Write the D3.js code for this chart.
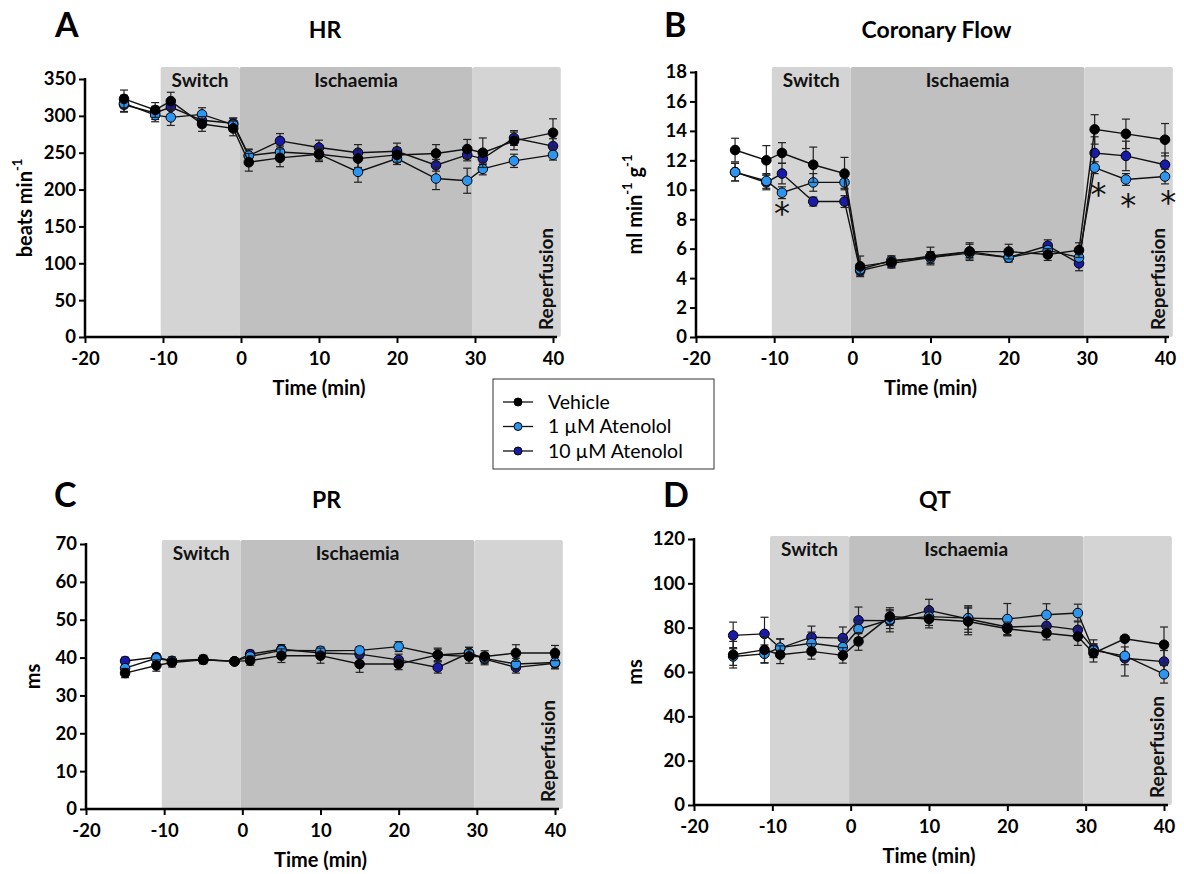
<!DOCTYPE html>
<html>
<head>
<meta charset="utf-8">
<script src="https://cdn.jsdelivr.net/npm/d3@7"></script>
<style>
  body { margin: 0; background: #fff; }
  svg text { font-family: Lato, "Open Sans", sans-serif; }
</style>
</head>
<body>
<svg id="fig" width="1184" height="874"></svg>
<script>
// time points (min)
const times = [-15, -11, -9, -5, -1, 1, 5, 10, 15, 20, 25, 29, 31, 35, 40];
const groups = ['Vehicle', '1 µM Atenolol', '10 µM Atenolol'];
const groupColors = ['#000000', '#2b95ef', '#1a1aa8'];

// HR (beats/min)
const hrVehicle = [323, 308, 320, 289, 283, 237, 243, 248, 242, 247, 249, 255, 250, 266, 277];
const hrVehicleErr = [12, 10, 12, 10, 10, 12, 12, 10, 12, 10, 12, 13, 20, 12, 19];
const hrLow = [317, 301, 298, 302, 288, 246, 251, 248, 224, 242, 215, 212, 228, 239, 247];
const hrLowErr = [11, 9, 11, 9, 9, 8, 8, 8, 14, 8, 15, 17, 8, 9, 7];
const hrHigh = [315, 304, 312, 294, 290, 246, 266, 257, 250, 252, 233, 247, 242, 270, 259];
const hrHighErr = [10, 9, 10, 9, 7, 9, 10, 10, 11, 11, 8, 8, 8, 10, 10];

// Coronary flow (ml/min/g)
const cfVehicle = [12.7, 12.0, 12.5, 11.7, 11.1, 4.8, 5.1, 5.5, 5.8, 5.8, 5.6, 5.9, 14.1, 13.8, 13.4];
const cfVehicleErr = [0.8, 1.0, 0.7, 1.2, 1.1, 0.7, 0.4, 0.6, 0.6, 0.5, 0.4, 0.5, 1.0, 1.0, 1.1];
const cfLow = [11.2, 10.6, 9.8, 10.5, 10.5, 4.6, 5.2, 5.4, 5.7, 5.4, 5.9, 5.4, 11.5, 10.7, 10.9];
const cfLowErr = [0.6, 0.5, 0.4, 0.6, 0.4, 0.3, 0.3, 0.3, 0.3, 0.3, 0.3, 0.3, 0.4, 0.4, 0.5];
const cfHigh = [11.2, 10.5, 11.1, 9.2, 9.2, 4.5, 5.0, 5.4, 5.8, 5.4, 6.2, 5.0, 12.5, 12.3, 11.7];
const cfHighErr = [0.6, 0.5, 0.7, 0.3, 0.4, 0.3, 0.3, 0.4, 0.5, 0.3, 0.4, 0.5, 1.1, 1.0, 0.8];
// significance marks on coronary flow
const cfStarTimes = [-9, 31.5, 35.3, 40.4];
const cfStarValues = [8.8, 10.1, 9.4, 9.6];

// PR (ms)
const prVehicle = [35.9, 37.9, 38.7, 39.4, 39.0, 39.2, 40.5, 40.5, 38.3, 38.3, 40.7, 40.3, 40.3, 41.2, 41.2];
const prVehicleErr = [1.2, 1.5, 1.2, 1.0, 0.8, 1.2, 1.8, 2.0, 2.2, 1.5, 1.8, 1.8, 1.5, 2.2, 2.0];
const prLow = [37.2, 39.8, 39.1, 39.4, 39.0, 40.3, 41.9, 41.8, 41.9, 42.9, 40.7, 41.2, 39.8, 38.3, 38.7];
const prLowErr = [1.0, 0.8, 1.0, 1.0, 0.8, 1.0, 1.0, 1.0, 1.0, 1.3, 1.5, 1.5, 1.3, 1.5, 1.5];
const prHigh = [39.1, 40.1, 39.1, 39.6, 39.0, 40.9, 42.2, 41.2, 40.9, 39.4, 37.4, 41.2, 39.6, 37.4, 38.5];
const prHighErr = [1.0, 1.0, 1.0, 1.0, 0.8, 1.0, 1.2, 1.0, 1.0, 1.5, 1.5, 1.5, 1.5, 1.5, 1.5];

// QT (ms)
const qtVehicle = [67.8, 70.0, 67.8, 69.3, 67.5, 73.8, 85.0, 83.9, 82.8, 79.5, 77.5, 76.0, 68.5, 75.0, 72.3];
const qtVehicleErr = [6, 6, 4, 3.5, 3.5, 4, 4, 4, 6, 3, 3, 4, 4, 1, 8];
const qtLow = [67.0, 68.2, 71.0, 73.0, 71.2, 79.3, 83.6, 85.0, 84.3, 83.9, 85.8, 86.6, 69.7, 67.3, 59.0];
const qtLowErr = [4, 4, 4, 5, 4, 4, 4, 4, 5, 7, 5, 4, 3, 4, 4];
const qtHigh = [76.5, 77.2, 70.8, 75.7, 75.3, 83.3, 83.1, 87.8, 83.9, 80.3, 80.8, 79.0, 70.5, 66.2, 64.7];
const qtHighErr = [6, 7.5, 4, 5, 5, 6, 5, 5, 6, 4, 4, 4, 4, 8, 5];

// protocol phases (min)
const phaseNames = ['Switch', 'Ischaemia', 'Reperfusion'];
const phaseStart = [-10.3, -0.2, 29.7];
const phaseEnd = [-0.2, 29.7, 41];
const phaseFill = ['#d4d4d4', '#c0c0c0', '#d4d4d4'];

const xTicks = [-20, -10, 0, 10, 20, 30, 40];

const svg = d3.select('#fig');

const panels = [
    { letter: 'A', title: 'HR', ylab: ['beats min', '-1'], ymax: 350, step: 50,
      x0: 85, x1: 553, yTop: 79, yBot: 337, shadeTop: 67, labX: 27, letterX: 55, row: 0,
      series: [[hrVehicle, hrVehicleErr], [hrLow, hrLowErr], [hrHigh, hrHighErr]] },
    { letter: 'B', title: 'Coronary Flow', ylab: ['ml min', '-1', ' g', '-1'], ymax: 18, step: 2,
      x0: 696, x1: 1165, yTop: 72, yBot: 337, shadeTop: 67, labX: 637, letterX: 664, row: 0,
      series: [[cfVehicle, cfVehicleErr], [cfLow, cfLowErr], [cfHigh, cfHighErr]] },
    { letter: 'C', title: 'PR', ylab: ['ms'], ymax: 70, step: 10,
      x0: 86, x1: 555, yTop: 544, yBot: 809, shadeTop: 540, labX: 35, letterX: 54, row: 1,
      series: [[prVehicle, prVehicleErr], [prLow, prLowErr], [prHigh, prHighErr]] },
    { letter: 'D', title: 'QT', ylab: ['ms'], ymax: 120, step: 20,
      x0: 694, x1: 1164, yTop: 539, yBot: 805, shadeTop: 536, labX: 637, letterX: 663, row: 1,
      series: [[qtVehicle, qtVehicleErr], [qtLow, qtLowErr], [qtHigh, qtHighErr]] }
];

panels.forEach((p, pi) => {
    const g = svg.append('g');
    const x = d3.scaleLinear().domain([-20, 40]).range([p.x0, p.x1]);
    const y = d3.scaleLinear().domain([0, p.ymax]).range([p.yBot, p.yTop]);

    // shaded phases
    phaseNames.forEach((name, i) => {
        g.append('rect')
            .attr('x', x(phaseStart[i]))
            .attr('y', p.shadeTop)
            .attr('width', x(phaseEnd[i]) - x(phaseStart[i]))
            .attr('height', p.yBot - p.shadeTop)
            .attr('rx', 2)
            .attr('fill', phaseFill[i]);
    });
    const labY = p.shadeTop + 20;
    g.append('text')
        .attr('x', x((phaseStart[0] + phaseEnd[0]) / 2)).attr('y', labY)
        .attr('text-anchor', 'middle').attr('font-size', 19).attr('font-weight', 'bold')
        .attr('fill', '#111').text(phaseNames[0]);
    g.append('text')
        .attr('x', x((phaseStart[1] + phaseEnd[1]) / 2)).attr('y', labY)
        .attr('text-anchor', 'middle').attr('font-size', 19).attr('font-weight', 'bold')
        .attr('fill', '#111').text(phaseNames[1]);
    g.append('text')
        .attr('transform', `translate(${x(40) + 0},${p.yBot - 7}) rotate(-90)`)
        .attr('font-size', 19).attr('font-weight', 'bold').attr('fill', '#111')
        .text(phaseNames[2]);

    // axes (plain hyphen for negatives, as in the original)
    const yAxis = d3.axisLeft(y).tickValues(d3.range(0, p.ymax + 0.001, p.step))
        .tickFormat(d => String(d)).tickSize(6).tickPadding(3);
    const xAxis = d3.axisBottom(x).tickValues(xTicks)
        .tickFormat(d => String(d)).tickSize(6).tickPadding(9);

    const ya = g.append('g').attr('transform', `translate(${p.x0},0)`).call(yAxis);
    const xa = g.append('g').attr('transform', `translate(0,${p.yBot})`).call(xAxis);
    [ya, xa].forEach(a => {
        a.select('.domain').attr('stroke', '#000').attr('stroke-width', 2.5);
        a.selectAll('.tick line').attr('stroke', '#000').attr('stroke-width', 2);
        a.selectAll('.tick text').attr('fill', '#000').attr('font-size', 18.5).attr('font-weight', 'bold')
            .style('font-family', 'Lato, sans-serif');
    });
    ya.select('.domain').attr('d', `M0,${p.yBot}V${p.yTop - 1}`);
    xa.select('.domain').attr('d', `M${p.x0},0H${p.x1 + 4}`);

    g.append('text')
        .attr('x', (p.x0 + p.x1) / 2).attr('y', p.yBot + 58)
        .attr('text-anchor', 'middle').attr('font-size', 20).attr('font-weight', 'bold')
        .text('Time (min)');

    // y label
    const yl = g.append('text')
        .attr('transform', `translate(${p.labX},${(p.yTop + p.yBot) / 2}) rotate(-90)`)
        .attr('text-anchor', 'middle').attr('font-size', 20).attr('font-weight', 'bold')
        .attr('dominant-baseline', 'middle');
    p.ylab.forEach((t, i) => {
        const sup = i % 2 === 1;
        yl.append('tspan')
            .attr('font-size', sup ? 13 : 20)
            .attr('dy', sup ? -8 : (i > 0 ? 8 : 0))
            .text(t);
    });

    // titles
    const baseY = p.row === 0 ? 37 : 507;
    svg.append('text').attr('x', p.letterX).attr('y', baseY)
        .attr('font-size', 34).attr('font-weight', 'bold').text(p.letter);
    svg.append('text').attr('x', (p.x0 + p.x1) / 2 + 6).attr('y', baseY + 1)
        .attr('text-anchor', 'middle').attr('font-size', 23).attr('font-weight', 'bold').text(p.title);

    // series: draw 10 µM first, vehicle last
    [2, 1, 0].forEach(si => {
        const [vals, errs] = p.series[si];
        const pts = times.map((t, i) => ({ t, v: vals[i], e: errs[i] }));
        const sg = g.append('g');
        sg.append('path')
            .datum(pts)
            .attr('fill', 'none').attr('stroke', '#111').attr('stroke-width', 1.4)
            .attr('d', d3.line().x(d => x(d.t)).y(d => y(d.v)));
        const eb = sg.selectAll('.eb').data(pts).enter().append('g')
            .attr('stroke', '#222').attr('stroke-width', 1.2);
        eb.append('line')
            .attr('x1', d => x(d.t)).attr('x2', d => x(d.t))
            .attr('y1', d => y(d.v - d.e)).attr('y2', d => y(d.v + d.e));
        eb.append('line')
            .attr('x1', d => x(d.t) - 4).attr('x2', d => x(d.t) + 4)
            .attr('y1', d => y(d.v + d.e)).attr('y2', d => y(d.v + d.e));
        eb.append('line')
            .attr('x1', d => x(d.t) - 4).attr('x2', d => x(d.t) + 4)
            .attr('y1', d => y(d.v - d.e)).attr('y2', d => y(d.v - d.e));
        sg.selectAll('circle').data(pts).enter().append('circle')
            .attr('cx', d => x(d.t)).attr('cy', d => y(d.v)).attr('r', 4.8)
            .attr('fill', groupColors[si]).attr('stroke', '#000').attr('stroke-width', 1);
    });

    if (pi === 1) {
        g.selectAll('.star').data(cfStarTimes).enter().append('text')
            .attr('x', (d, i) => x(d)).attr('y', (d, i) => y(cfStarValues[i]) + 17)
            .attr('text-anchor', 'middle').attr('font-size', 32)
            .style('font-family', '"DejaVu Sans", sans-serif').attr('fill', '#111')
            .text('*');
    }
});

// legend
const lg = svg.append('g');
lg.append('rect').attr('x', 493).attr('y', 379).attr('width', 221).attr('height', 90)
    .attr('fill', '#fff').attr('stroke', '#333').attr('stroke-width', 1);
groups.forEach((name, i) => {
    const ly = 402 + i * 24.5;
    lg.append('line').attr('x1', 503).attr('x2', 533).attr('y1', ly).attr('y2', ly)
        .attr('stroke', '#111').attr('stroke-width', 1.3);
    lg.append('circle').attr('cx', 518).attr('cy', ly).attr('r', 4)
        .attr('fill', groupColors[i]).attr('stroke', '#000').attr('stroke-width', 1);
    lg.append('text').attr('x', 548).attr('y', ly).attr('dy', '0.35em')
        .attr('font-size', 19.5).text(name);
});
</script>
</body>
</html>
